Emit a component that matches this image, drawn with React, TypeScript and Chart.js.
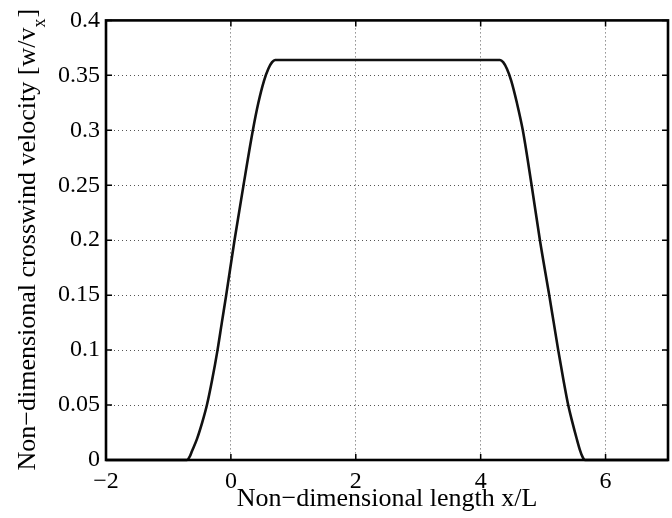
import React, { useEffect, useRef } from 'react';
import { Chart, registerables } from 'chart.js';

Chart.register(...registerables);

// Data
const xValues = [
  -2, -0.704, -0.66, -0.624, -0.544, -0.46, -0.384, -0.3, -0.214, -0.145, -0.075, 0.058, 0.202, 0.352, 0.44, 0.53, 0.6, 0.66, 0.709,
  4.309, 4.36, 4.42, 4.49, 4.58, 4.675, 4.816, 4.949, 5.098, 5.17, 5.242, 5.325, 5.402, 5.47, 5.535, 5.59, 5.63, 5.669, 7,
];
const yValues = [
  0, 0, 0.003, 0.008, 0.019, 0.034, 0.05, 0.073, 0.1, 0.125, 0.15, 0.2, 0.25, 0.3, 0.325, 0.345, 0.356, 0.362, 0.364,
  0.364, 0.362, 0.356, 0.345, 0.325, 0.3, 0.25, 0.2, 0.15, 0.125, 0.1, 0.073, 0.05, 0.034, 0.02, 0.009, 0.003, 0, 0,
];

const xMin = -2;
const xMax = 7;
const xStep = 2;
const yMin = 0;
const yMax = 0.4;
const yStep = 0.05;

const xTitle = 'Non\u2212dimensional length x/L';
const yTitleMain = 'Non\u2212dimensional crosswind velocity [w/v';
const yTitleSub = 'x';
const yTitleEnd = ']';

const FONT = '"Liberation Serif", "Times New Roman", serif';

const boxPlugin = {
  id: 'matlabBox',
  afterDatasetsDraw(chart: any) {
    const { ctx, chartArea } = chart;
    const { left, right, top, bottom } = chartArea;
    const xs = chart.scales.x;
    const ys = chart.scales.y;
    ctx.save();
    ctx.strokeStyle = '#000';
    ctx.lineWidth = 1.5;
    const tl = 6;
    ctx.beginPath();
    xs.ticks.forEach((t: any) => {
      const px = xs.getPixelForValue(t.value);
      ctx.moveTo(px, bottom);
      ctx.lineTo(px, bottom - tl);
      ctx.moveTo(px, top);
      ctx.lineTo(px, top + tl);
    });
    ys.ticks.forEach((t: any) => {
      const py = ys.getPixelForValue(t.value);
      ctx.moveTo(left, py);
      ctx.lineTo(left + tl, py);
      ctx.moveTo(right, py);
      ctx.lineTo(right - tl, py);
    });
    ctx.stroke();
    ctx.lineWidth = 2.6;
    ctx.strokeRect(left, top, right - left, bottom - top);
    ctx.restore();
  },
  afterDraw(chart: any) {
    const { ctx, chartArea } = chart;
    const mainFont = '26px ' + FONT;
    const subFont = '18px ' + FONT;
    ctx.save();
    ctx.fillStyle = '#000';
    ctx.font = mainFont;
    const w1 = ctx.measureText(yTitleMain).width;
    const w3 = ctx.measureText(yTitleEnd).width;
    ctx.font = subFont;
    const w2 = ctx.measureText(yTitleSub).width;
    const total = w1 + w2 + w3;
    const cy = (chartArea.top + chartArea.bottom) / 2;
    ctx.translate(35, cy);
    ctx.rotate(-Math.PI / 2);
    ctx.textAlign = 'left';
    ctx.textBaseline = 'alphabetic';
    let x = -total / 2;
    ctx.font = mainFont;
    ctx.fillText(yTitleMain, x, 0);
    x += w1;
    ctx.font = subFont;
    ctx.fillText(yTitleSub, x, 10);
    x += w2 + 1;
    ctx.font = mainFont;
    ctx.fillText(yTitleEnd, x, 0);
    ctx.restore();
  },
};

export default function App() {
  const canvasRef = useRef<HTMLCanvasElement | null>(null);

  useEffect(() => {
    document.body.style.margin = '0';
    const canvas = canvasRef.current;
    if (!canvas) return;
    const points = xValues.map((x, i) => ({ x, y: yValues[i] }));
    const chart = new Chart(canvas, {
      type: 'line',
      data: {
        datasets: [
          {
            data: points,
            borderColor: '#111',
            borderWidth: 2.6,
            pointRadius: 0,
            fill: false,
            cubicInterpolationMode: 'monotone',
            clip: false,
          } as any,
        ],
      },
      options: {
        responsive: false,
        animation: false,
        devicePixelRatio: 1,
        layout: { padding: { left: 0, right: 4, top: 17, bottom: 0 } },
        plugins: {
          legend: { display: false },
          tooltip: { enabled: false },
        },
        scales: {
          x: {
            type: 'linear',
            min: xMin,
            max: xMax,
            afterFit: (s: any) => {
              s.height = 58;
            },
            ticks: {
              stepSize: xStep,
              includeBounds: false,
              autoSkip: false,
              maxRotation: 0,
              padding: 7,
              color: '#000',
              font: { family: FONT, size: 24 },
              callback: (v: any) => String(v).replace('-', '\u2212'),
            },
            grid: { color: '#555', lineWidth: 1, drawTicks: false },
            border: { display: false, dash: [1, 3] },
            title: {
              display: true,
              text: xTitle,
              color: '#000',
              font: { family: FONT, size: 26 },
              padding: { top: 0, bottom: 3 },
            },
          } as any,
          y: {
            type: 'linear',
            min: yMin,
            max: yMax,
            afterFit: (s: any) => {
              s.width = 106;
            },
            ticks: {
              stepSize: yStep,
              autoSkip: false,
              padding: 6,
              color: '#000',
              font: { family: FONT, size: 24 },
              callback: (v: any) => String(Number(Number(v).toFixed(2))),
            },
            grid: { color: '#555', lineWidth: 1, drawTicks: false },
            border: { display: false, dash: [1, 3] },
          } as any,
        },
      },
      plugins: [boxPlugin],
    });
    return () => chart.destroy();
  }, []);

  return (
    <div style={{ position: 'absolute', left: 0, top: 0, width: 672, height: 518, background: '#fff' }}>
      <canvas ref={canvasRef} width={672} height={518} />
    </div>
  );
}
